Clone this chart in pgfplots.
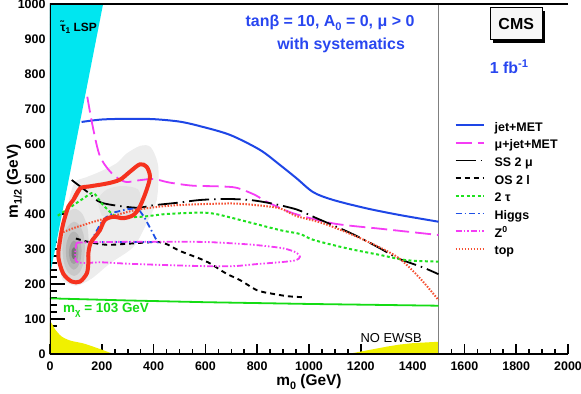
\documentclass[border=0pt]{standalone}
\usepackage{fontspec}
\setmainfont{Liberation Sans}
\usepackage{pgfplots}
\pgfplotsset{compat=1.18}
\usetikzlibrary{shadows}
\definecolor{cyanL}{RGB}{0,230,240}
\definecolor{yel}{RGB}{240,240,0}
\definecolor{jetblue}{RGB}{30,70,230}
\definecolor{mag}{RGB}{245,60,245}
\definecolor{grn}{RGB}{20,220,20}
\definecolor{grn2}{RGB}{30,225,30}
\definecolor{higgs}{RGB}{30,80,230}
\definecolor{redc}{RGB}{245,50,30}
\definecolor{toprd}{RGB}{245,80,50}
\definecolor{txtblue}{RGB}{40,70,240}
\newcommand\sbs[1]{\raisebox{-0.45ex}{\scalebox{0.7}{#1}}}
\newcommand\sps[1]{\raisebox{0.75ex}{\scalebox{0.7}{#1}}}
\begin{document}
\begin{tikzpicture}[x=1bp,y=1bp]
\useasboundingbox (-50,-39) rectangle (531,354);
\begin{axis}[at={(0,0)}, anchor=south west, scale only axis,
  width=518bp, height=350bp,
  xmin=0, xmax=2000, ymin=0, ymax=1000,
  axis line style={draw=none},
  tick pos=left, tick align=inside,
  xtick={0,200,...,2000}, ytick={0,100,...,1000},
  minor x tick num=3, minor y tick num=4,
  major tick length=15bp, minor tick length=7.5bp,
  xtick style={/pgfplots/major tick length=10bp,/pgfplots/minor tick length=5bp},
  tick style={black, line width=1.6bp},
  scaled ticks=false,
  /pgf/number format/assume math mode=true,
  /pgf/number format/1000 sep={},
  tick label style={font=\fontsize{12.5}{13}\selectfont\bfseries},
  xticklabel style={yshift=-4bp},
  yticklabel style={xshift=-1bp},
  xlabel={m\sbs{0} (GeV)}, ylabel={m\sbs{1/2} (GeV)},
  label style={font=\fontsize{15.5}{16}\selectfont\bfseries},
  xlabel style={at={(axis description cs:0.5,-0.08)}, anchor=center},
  ylabel style={at={(axis description cs:-0.069,0.494)}, anchor=center},
  legend style={at={(axis cs:1550,669)}, anchor=north west, draw=none, fill=none,
    font=\fontsize{12.5}{13}\selectfont\bfseries, row sep=5.7bp, column sep=10bp,
    nodes={inner sep=0pt, text height=9bp, text depth=3bp}},
  legend cell align=left,
  legend image code/.code={\draw[#1] (0bp,3bp) -- (28bp,3bp);},
  clip=true,
]
% regions
\addplot[fill=cyanL, draw=none, forget plot] coordinates {(0,225) (205,1000) (0,1000)} -- cycle;
\addplot[fill=yel, draw=none, forget plot, smooth] coordinates {(0,0) (0,89) (20,70) (45,50) (80,38) (130,30) (190,15) (245,0)};
\addplot[fill=yel, draw=none, forget plot] coordinates {(1150,0) (1200,7) (1250,14) (1300,21) (1350,27) (1400,31) (1450,33) (1500,35) (1500,0)} -- cycle;
% gray smear
\addplot[fill=gray!14, draw=none, forget plot, smooth] coordinates {(50,210) (100,195) (160,215) (232,259) (322,306) (373,373) (412,440) (418,535) (390,590) (350,595) (296,573) (257,545) (193,521) (140,505) (95,490) (70,430) (40,330) (35,250) (50,210)};
\addplot[fill=gray!22, draw=none, forget plot, smooth] coordinates {(200,395) (260,390) (320,400) (350,430) (340,470) (280,480) (220,470) (185,440) (200,395)};
\addplot[fill=gray!28, draw=none, forget plot, smooth] coordinates {(150,310) (145,360) (125,400) (95,415) (65,400) (43,355) (35,305) (43,250) (65,215) (95,205) (125,215) (145,255) (150,310)};
\addplot[fill=gray!42, draw=none, forget plot, smooth] coordinates {(135,300) (130,340) (114,368) (93,378) (70,366) (54,338) (48,300) (54,260) (70,233) (93,223) (114,233) (130,262) (135,300)};
\addplot[fill=gray!58, draw=none, forget plot, smooth] coordinates {(122,295) (118,322) (107,342) (92,350) (77,342) (65,321) (61,295) (65,268) (77,249) (92,241) (107,249) (118,268) (122,295)};
\addplot[fill=gray!75, draw=none, forget plot, smooth] coordinates {(110,290) (107,307) (101,320) (92,324) (83,318) (76,306) (73,290) (76,273) (83,261) (92,257) (101,261) (107,273) (110,290)};
\addplot[fill=gray!90!black, draw=none, forget plot, smooth] coordinates {(101,288) (100,297) (96,303) (92,305) (88,302) (84,296) (83,288) (84,280) (88,273) (92,271) (96,273) (100,280) (101,288)};
% vertical line
\addplot[gray, line width=0.9bp, forget plot] coordinates {(1500,0) (1500,1000)};
% chargino mass line
\addplot[grn, line width=1.8bp, forget plot] coordinates {(0,159) (300,153) (600,148) (1000,143) (1500,138)};
% curves
\addplot[jetblue, line width=2bp, smooth] coordinates {(122,663) (200,670) (300,672) (400,671) (500,664) (579,651) (695,626) (811,583) (888,540) (952,502) (1017,462) (1094,440) (1223,416) (1351,397) (1500,378)};
\addlegendentry{jet+MET}
\addplot[mag, line width=1.8bp, dash pattern=on 16bp off 6bp, smooth] coordinates {(144,735) (165,650) (193,565) (240,515) (290,492) (340,496) (400,500) (460,490) (550,481) (650,479) (720,475) (790,455) (837,435) (939,402) (1094,373) (1287,357) (1500,340)};
\addlegendentry{μ+jet+MET}
\addplot[black, line width=1.8bp, dash pattern=on 20bp off 5bp on 1.5bp off 5bp, smooth] coordinates {(84,497) (150,460) (200,432) (330,418) (400,425) (490,432) (579,440) (676,443) (772,440) (856,430) (952,413) (1023,390) (1120,359) (1190,335) (1274,302) (1345,273) (1441,247) (1500,228)};
\addlegendentry{SS 2 μ}
\addplot[black, line width=1.9bp, dash pattern=on 5bp off 4bp, smooth] coordinates {(100,330) (150,320) (220,312) (300,315) (410,320) (450,314) (500,295) (580,272) (620,258) (680,230) (734,211) (800,182) (860,172) (920,165) (985,162)};
\addlegendentry{OS 2 l}
\addplot[grn2, line width=2bp, dash pattern=on 3bp off 2.5bp, smooth] coordinates {(30,395) (80,420) (130,445) (167,460) (200,430) (240,400) (265,392) (350,392) (450,400) (579,404) (640,400) (734,383) (888,354) (965,343) (1017,326) (1146,302) (1274,283) (1377,268) (1500,264)};
\addlegendentry{2 τ}
\addplot[higgs, line width=1.8bp, dash pattern=on 6bp off 3bp on 1.5bp off 3bp] coordinates {(154,316) (175,345) (195,372) (215,390) (250,405) (300,414) (340,416) (365,390) (390,355) (415,320) (330,320) (250,320) (190,320)};
\addlegendentry{Higgs}
\addplot[mag, line width=1.8bp, dash pattern=on 6bp off 2bp on 1.5bp off 2bp on 1.5bp off 2bp, smooth] coordinates {(103,318) (200,320) (450,321) (600,320) (708,316) (800,311) (900,302) (950,290) (965,278) (950,268) (900,263) (800,257) (708,251) (600,251) (450,254) (300,258) (200,262) (103,264) (103,318)};
\addlegendentry{Z\sps{0}}
\addplot[toprd, line width=2bp, dash pattern=on 1.5bp off 1.5bp, smooth] coordinates {(40,345) (100,362) (193,383) (322,410) (450,423) (579,428) (708,430) (800,425) (888,416) (952,394) (1060,372) (1200,330) (1339,278) (1429,216) (1500,154)};
\addlegendentry{top}
% red contour
\addplot[redc, line width=4bp, smooth, forget plot] coordinates {(90,440) (116,473) (154,479) (219,487) (270,498) (309,521) (347,542) (373,535) (386,507) (373,469) (347,421) (322,397) (283,388) (245,392) (212,383) (193,354) (174,335) (156,316) (148,287) (148,259) (142,230) (116,207) (84,207) (51,230) (32,278) (39,326) (51,373) (71,421) (90,440) (116,473)};
% frame
\draw[black, line width=1.4bp] (rel axis cs:1,1) -- (rel axis cs:0,1) -- (rel axis cs:0,0) -- (rel axis cs:1,0);
% texts
\node[txtblue, font=\fontsize{16}{17}\selectfont\bfseries] at (axis cs:1081,946) {tanβ = 10, A\sbs{0} = 0, μ > 0};
\node[txtblue, font=\fontsize{16}{17}\selectfont\bfseries] at (axis cs:1124,883) {with systematics};
\node[draw=black, line width=1.2bp, fill=gray!6, minimum width=52bp, minimum height=32bp, inner sep=0pt,
  drop shadow={shadow xshift=3bp, shadow yshift=-3bp, fill=black, opacity=1},
  font=\fontsize{16}{17}\selectfont\bfseries] at (axis cs:1800,944) {CMS};
\node[txtblue, font=\fontsize{16}{17}\selectfont\bfseries] at (axis cs:1772,820) {1 fb\sps{-1}};
\node[anchor=west, inner sep=0pt, font=\fontsize{12}{13}\selectfont\bfseries] at (axis cs:39,934) {\~{τ}\sbs{1} LSP};
\node[anchor=west, inner sep=0pt, grn, font=\fontsize{13.5}{14}\selectfont\bfseries] at (axis cs:50,126) {m\sbs{χ} = 103 GeV};
\node[inner sep=0pt, font=\fontsize{13}{14}\selectfont] at (axis cs:1317,46) {NO EWSB};
\end{axis}
\end{tikzpicture}
\end{document}
